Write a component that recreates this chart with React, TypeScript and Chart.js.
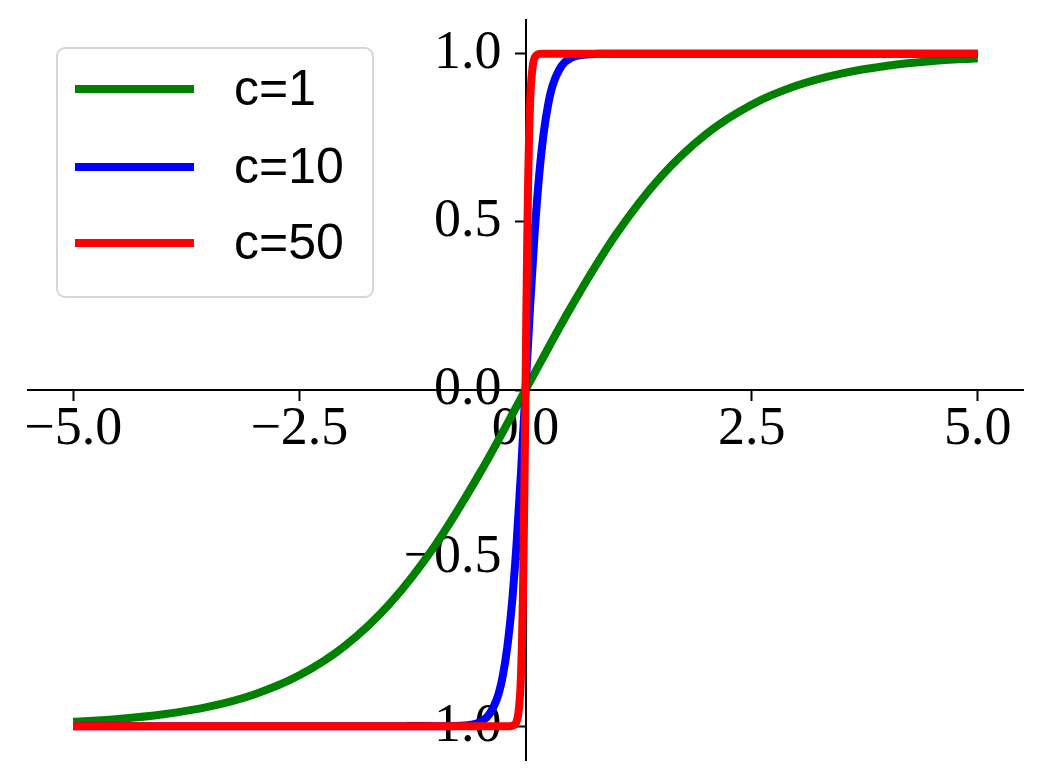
import React, { useEffect, useRef } from "react";
import { Chart, registerables } from "chart.js";

Chart.register(...registerables);

// ---- data ----
const seriesLabels = ["c=1", "c=10", "c=50"];
const seriesColors = ["#008000", "#0000ff", "#ff0000"];

const xGreen = [-5, -4.5, -4, -3.5, -3, -2.5, -2, -1.5, -1, -0.5, 0, 0.5, 1, 1.5, 2, 2.5, 3, 3.5, 4, 4.5, 5];
const yGreen = [-0.9866, -0.978, -0.964, -0.9414, -0.9051, -0.8483, -0.7616, -0.6351, -0.4621, -0.2449, 0,
  0.2449, 0.4621, 0.6351, 0.7616, 0.8483, 0.9051, 0.9414, 0.964, 0.978, 0.9866];

const xBlue = [-5, -2, -1, -0.8, -0.6, -0.5, -0.4, -0.3, -0.25, -0.2, -0.15, -0.1, -0.05, 0,
  0.05, 0.1, 0.15, 0.2, 0.25, 0.3, 0.4, 0.5, 0.6, 0.8, 1, 2, 5];
const yBlue = [-1, -1, -0.9999, -0.9993, -0.9951, -0.9866, -0.964, -0.9051, -0.8483, -0.7616, -0.6351, -0.4621, -0.2449, 0,
  0.2449, 0.4621, 0.6351, 0.7616, 0.8483, 0.9051, 0.964, 0.9866, 0.9951, 0.9993, 0.9999, 1, 1];

const xRed = [-5, -1, -0.2, -0.16, -0.12, -0.1, -0.08, -0.06, -0.05, -0.04, -0.03, -0.02, -0.01, 0,
  0.01, 0.02, 0.03, 0.04, 0.05, 0.06, 0.08, 0.1, 0.12, 0.16, 0.2, 1, 5];
const yRed = [-1, -1, -0.9999, -0.9993, -0.9951, -0.9866, -0.964, -0.9051, -0.8483, -0.7616, -0.6351, -0.4621, -0.2449, 0,
  0.2449, 0.4621, 0.6351, 0.7616, 0.8483, 0.9051, 0.964, 0.9866, 0.9951, 0.9993, 0.9999, 1, 1];

const xTicks = [-5, -2.5, 0, 2.5, 5];
const xTickLabels = ["\u22125.0", "\u22122.5", "0.0", "2.5", "5.0"];
const yTicks = [-1, -0.5, 0, 0.5, 1];
const yTickLabels = ["\u22121.0", "\u22120.5", "0.0", "0.5", "1.0"];

const seriesX = [xGreen, xBlue, xRed];
const seriesY = [yGreen, yBlue, yRed];

const X_TICK_FONT = { family: "'Liberation Serif', serif", size: 54, lineHeight: 1.1 };
const Y_TICK_FONT = { family: "'Liberation Serif', serif", size: 54, lineHeight: 0.6 };

export default function App() {
  const ref = useRef<HTMLCanvasElement>(null);

  useEffect(() => {
    const canvas = ref.current;
    if (!canvas) return;
    const shifted = new WeakSet<object>();

    const yLabelShift = {
      id: "yLabelShift",
      beforeDraw(chart: any) {
        const ys = chart.scales.y;
        const items = ys.getLabelItems();
        if (!shifted.has(items)) {
          items.forEach((it: any) => {
            it.options.translation[0] -= 24;
          });
          shifted.add(items);
        }
      },
    };

    const boxLegend = {
      id: "boxLegend",
      afterDraw(chart: any) {
        const ctx = chart.ctx as CanvasRenderingContext2D;
        const left = 57, top = 48, right = 373, bottom = 297, r = 8;
        ctx.save();
        ctx.beginPath();
        ctx.moveTo(left + r, top);
        ctx.lineTo(right - r, top);
        ctx.arcTo(right, top, right, top + r, r);
        ctx.lineTo(right, bottom - r);
        ctx.arcTo(right, bottom, right - r, bottom, r);
        ctx.lineTo(left + r, bottom);
        ctx.arcTo(left, bottom, left, bottom - r, r);
        ctx.lineTo(left, top + r);
        ctx.arcTo(left, top, left + r, top, r);
        ctx.closePath();
        ctx.fillStyle = "rgba(255,255,255,0.8)";
        ctx.fill();
        ctx.strokeStyle = "#d6d6d6";
        ctx.lineWidth = 2;
        ctx.stroke();
        const rows = [89, 167, 243];
        chart.data.datasets.forEach((ds: any, i: number) => {
          const y = rows[i];
          ctx.beginPath();
          ctx.moveTo(75, y);
          ctx.lineTo(194, y);
          ctx.strokeStyle = ds.borderColor;
          ctx.lineWidth = 8;
          ctx.lineCap = "butt";
          ctx.stroke();
          ctx.fillStyle = "#000";
          ctx.font = "50px 'Liberation Sans', sans-serif";
          ctx.textAlign = "left";
          ctx.textBaseline = "middle";
          ctx.fillText(ds.label, 234, y + 2);
        });
        ctx.restore();
      },
    };

    const chart = new Chart(canvas, {
      type: "line",
      data: {
        datasets: seriesLabels.map((label, i) => ({
          label,
          data: seriesX[i].map((x, j) => ({ x, y: seriesY[i][j] })),
          borderColor: seriesColors[i],
          backgroundColor: seriesColors[i],
          borderWidth: 8,
          pointRadius: 0,
          cubicInterpolationMode: "monotone" as const,
          borderJoinStyle: "round" as const,
          borderCapStyle: "butt" as const,
          fill: false,
          order: 3 - i,
        })),
      },
      options: {
        responsive: false,
        animation: false,
        events: [],
        layout: { padding: { left: 28, right: 18, top: 20, bottom: 19 } },
        plugins: { legend: { display: false }, tooltip: { enabled: false } },
        scales: {
          x: {
            type: "linear",
            min: -5.5,
            max: 5.5,
            position: { y: 0 } as any,
            afterBuildTicks: (s: any) => {
              s.ticks = xTicks.map((v) => ({ value: v }));
            },
            ticks: {
              autoSkip: false,
              maxRotation: 0,
              color: "#000",
              font: X_TICK_FONT,
              padding: 0,
              callback: (v: any) => xTickLabels[xTicks.indexOf(Number(v))] ?? "",
            },
            grid: { display: true, drawOnChartArea: false, drawTicks: true, tickLength: 10, tickWidth: 2, tickColor: "#000" },
            border: { display: true, color: "#000", width: 2 },
          },
          y: {
            type: "linear",
            min: -1.1,
            max: 1.1,
            position: { x: 0 } as any,
            afterBuildTicks: (s: any) => {
              s.ticks = yTicks.map((v) => ({ value: v }));
            },
            ticks: {
              autoSkip: false,
              color: "#000",
              font: Y_TICK_FONT,
              padding: 0,
              callback: (v: any) => yTickLabels[yTicks.indexOf(Number(v))] ?? "",
            },
            grid: { display: true, drawOnChartArea: false, drawTicks: true, tickLength: 10, tickWidth: 2, tickColor: "#000" },
            border: { display: true, color: "#000", width: 2 },
          },
        },
      },
      plugins: [yLabelShift, boxLegend],
    });
    return () => chart.destroy();
  }, []);

  return (
    <div style={{ position: "fixed", left: 0, top: 0, width: 1041, height: 779, background: "#fff" }}>
      <canvas ref={ref} width={1041} height={779} />
    </div>
  );
}
